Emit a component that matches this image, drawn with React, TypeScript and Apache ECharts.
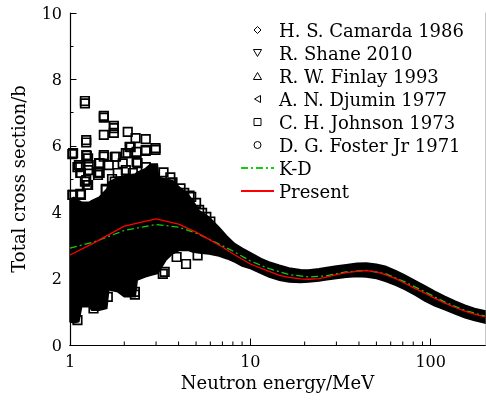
import React, { useEffect, useRef } from "react";
import * as echarts from "echarts";

// ---- data ----
const bandEnergy = [1.0, 1.05, 1.12, 1.16, 1.28, 1.32, 1.45, 1.6, 1.64, 1.84, 2.0, 2.3, 2.36, 2.6, 2.8, 3.05, 3.1, 3.4, 3.7, 4.05, 4.5, 4.8, 5.2, 5.9, 6.7, 7.4, 8.2, 9, 10, 11.5, 12.7, 14.5, 16.4, 19, 21, 24, 26, 30, 34, 39, 44, 50, 56, 64, 72, 82, 93, 105, 120, 137, 155, 175, 200];
const bandLow = [0.7, 0.66, 0.7, 1.15, 1.15, 1.05, 1.05, 1.1, 1.66, 1.6, 1.45, 1.45, 1.96, 2.05, 2.1, 2.15, 2.2, 2.55, 2.75, 2.85, 2.85, 2.8, 2.77, 2.74, 2.68, 2.6, 2.5, 2.38, 2.3, 2.15, 2.05, 1.95, 1.9, 1.88, 1.9, 1.93, 1.96, 2.0, 2.04, 2.06, 2.05, 2.0, 1.92, 1.8, 1.67, 1.5, 1.32, 1.18, 1.06, 0.93, 0.82, 0.74, 0.66];
const bandHigh = [4.4, 4.45, 4.35, 4.3, 4.3, 4.35, 4.45, 4.7, 4.9, 5.05, 5.1, 5.15, 5.2, 5.3, 5.45, 5.45, 5.05, 5.0, 4.95, 4.75, 4.55, 4.35, 4.05, 3.85, 3.55, 3.28, 3.05, 2.92, 2.78, 2.6, 2.5, 2.4, 2.32, 2.27, 2.26, 2.3, 2.33, 2.38, 2.42, 2.46, 2.47, 2.43, 2.37, 2.24, 2.1, 1.94, 1.78, 1.62, 1.46, 1.32, 1.2, 1.1, 1.03];

const presentE = [1, 1.35, 2, 3, 4, 5, 6, 7, 8, 10, 12.7, 14.5, 16.4, 19, 21, 24, 26, 30, 34, 39, 44, 50, 56, 64, 72, 82, 93, 105, 120, 137, 155, 175, 200];
const presentXS = [2.71, 3.07, 3.58, 3.8, 3.64, 3.4, 3.16, 2.95, 2.75, 2.44, 2.22, 2.1, 2.04, 1.99, 1.98, 2.0, 2.04, 2.12, 2.18, 2.22, 2.24, 2.2, 2.12, 2.0, 1.86, 1.7, 1.56, 1.41, 1.26, 1.13, 1.02, 0.93, 0.85];

const kdE = [1, 1.35, 2, 3, 4, 5, 6, 7, 8, 10, 12.7, 16.4, 21, 26, 34, 44, 56, 72, 93, 120, 155, 200];
const kdXS = [2.92, 3.1, 3.45, 3.63, 3.55, 3.37, 3.17, 2.99, 2.83, 2.53, 2.3, 2.12, 2.05, 2.08, 2.2, 2.25, 2.15, 1.9, 1.6, 1.29, 1.04, 0.87];

const johnsonE = [1.21, 1.21, 1.54, 1.54, 1.75, 1.75, 1.75, 1.54, 2.09, 2.31, 2.63, 1.23, 1.23, 2.98, 2.98, 2.63, 2.34, 2.14, 1.03, 1.24, 1.26, 1.54, 1.77, 1.46, 1.14, 1.14, 1.26, 1.46, 2.09, 2.34, 1.96, 1.21, 1.24, 1.03, 1.14, 1.58, 1.77, 1.71, 1.84, 3.7, 4.3, 3.66, 5.2, 5.7, 5.0, 4.7, 3.9, 4.4, 3.35, 3.27, 5.1, 2.29, 2.29, 1.62, 1.1, 1.35, 1.1, 1.43, 1.43,
  2.17, 2.63, 1.04, 1.23, 1.54, 1.8, 2.04, 1.12, 1.27, 1.45, 1.64, 1.15, 1.45, 1.23, 1.26, 1.04, 1.15, 1.58, 1.86, 2.23, 2.04, 2.37, 2.63, 3.3, 3.6, 4.1, 4.6, 5.4, 6.0];
const johnsonXS = [7.35, 7.28, 6.9, 6.85, 6.6, 6.53, 6.39, 6.33, 6.42, 6.23, 6.2, 6.17, 6.1, 5.93, 5.88, 5.85, 5.82, 5.97, 5.75, 5.7, 5.62, 5.67, 5.67, 5.47, 5.37, 5.18, 5.27, 5.18, 5.78, 5.51, 5.47, 4.92, 4.82, 4.52, 4.55, 4.7, 4.92, 5.0, 5.18, 4.9, 4.58, 4.88, 4.07, 3.86, 4.28, 4.46, 2.65, 2.44, 2.2, 2.14, 2.7, 1.6, 1.52, 1.45, 0.75, 1.1, 5.36, 5.2, 5.12,
  5.96, 5.87, 5.78, 5.72, 5.72, 5.67, 5.78, 5.42, 5.42, 5.48, 5.42, 5.18, 5.18, 4.97, 4.82, 4.52, 4.52, 4.67, 4.76, 5.18, 5.27, 5.48, 5.36, 5.2, 5.05, 4.72, 4.5, 3.98, 3.72];

const camardaE = [20, 30, 40, 50, 60, 80, 100, 130, 160, 190];
const camardaXS = [2.05, 2.2, 2.25, 2.2, 2.1, 1.75, 1.5, 1.2, 0.98, 0.88];
const shaneE = [6, 8, 11, 15, 25, 35, 55, 75, 110, 150];
const shaneXS = [3.1, 2.75, 2.35, 2.1, 2.12, 2.22, 2.15, 1.85, 1.35, 1.05];
const finlayE = [5.5, 7, 9, 12, 18, 28, 45, 65, 90, 140, 180];
const finlayXS = [3.3, 2.95, 2.65, 2.3, 2.03, 2.15, 2.25, 2.0, 1.62, 1.12, 0.92];
const djuminE = [1.5, 2, 3, 4, 5];
const djuminXS = [3.2, 3.5, 3.7, 3.6, 3.4];
const fosterE = [2.5, 3.5, 4.5, 6.5, 8.5, 10.5, 13];
const fosterXS = [3.6, 3.7, 3.5, 3.05, 2.75, 2.45, 2.25];

const xMinorTickValues = [2, 3, 4, 5, 6, 7, 8, 9, 20, 30, 40, 50, 60, 70, 80, 90];

const FONT = "DejaVu Serif";
const pairs = (xs: number[], ys: number[]) => xs.map((x, i) => [x, ys[i]]);
const hollow = { color: "rgba(0,0,0,0)", borderColor: "#000", borderWidth: 1.3, opacity: 1 };

const icons = {
  diamond: "path://M3.5,0L7,3.5L3.5,7L0,3.5Z",
  down: "path://M0,0.6L7,0.6L3.5,6.6Z",
  up: "path://M3.5,0.4L7,6.4L0,6.4Z",
  left: "path://M0.4,3.5L6.4,0L6.4,7Z",
  square: "path://M0.5,0.5L6.5,0.5L6.5,6.5L0.5,6.5Z",
  circle: "path://M0.5,3.5A3,3 0 1 1 6.5,3.5A3,3 0 1 1 0.5,3.5Z",
};
const noSymbol = { color: "rgba(0,0,0,0)", borderWidth: 0, opacity: 0 };

export default function App() {
  const ref = useRef<HTMLDivElement>(null);
  useEffect(() => {
    if (!ref.current) return;
    const chart = echarts.init(ref.current, undefined, { renderer: "svg" });
    const scatter = (name: string, xs: number[], ys: number[], symbol: string, rot = 0, size = 7, bw = 1.3) => ({
      name,
      type: "scatter",
      data: pairs(xs, ys),
      symbol,
      symbolRotate: rot,
      symbolSize: size,
      itemStyle: { ...hollow, borderWidth: bw },
      z: 3,
      silent: true,
    });
    chart.setOption({
      animation: false,
      textStyle: { fontFamily: FONT, color: "#000" },
      grid: { left: 70, right: 1, top: 13, bottom: 58 },
      legend: {
        left: 240,
        top: 21,
        padding: 0,
        orient: "vertical",
        itemWidth: 33,
        itemHeight: 7,
        itemGap: 5,
        selectedMode: false,
        textStyle: { fontFamily: FONT, fontSize: 18, color: "#000", lineHeight: 18 },
        itemStyle: { borderWidth: 1 },
        data: [
          { name: "H. S. Camarda 1986", icon: icons.diamond },
          { name: "R. Shane 2010", icon: icons.down },
          { name: "R. W. Finlay 1993", icon: icons.up },
          { name: "A. N. Djumin 1977", icon: icons.left },
          { name: "C. H. Johnson 1973", icon: icons.square },
          { name: "D. G. Foster Jr 1971", icon: icons.circle },
          { name: "K-D", itemStyle: noSymbol },
          { name: "Present", itemStyle: noSymbol },
        ],
      },
      xAxis: [
        {
          type: "log",
          logBase: 10,
          min: 1,
          max: 200,
          position: "bottom",
          axisLine: { lineStyle: { color: "#000", width: 1.2 } },
          axisTick: { inside: true, length: 6.5, lineStyle: { color: "#000" } },
          axisLabel: { fontFamily: FONT, fontSize: 16, color: "#000", margin: 8, showMaxLabel: false },
          splitLine: { show: false },
          name: "Neutron energy/MeV",
          nameLocation: "middle",
          nameGap: 24,
          nameTextStyle: { fontFamily: FONT, fontSize: 18, color: "#000" },
        },
        {
          type: "log",
          logBase: 10,
          min: 1,
          max: 200,
          position: "top",
          axisLine: { lineStyle: { color: "#000", width: 1.2 } },
          axisTick: { show: false },
          axisLabel: { show: false },
          splitLine: { show: false },
        },
      ],
      yAxis: [
        {
          type: "value",
          min: 0,
          max: 10,
          interval: 2,
          position: "left",
          axisLine: { show: true, lineStyle: { color: "#000", width: 1.2 } },
          axisTick: { show: true, inside: true, length: 6.5, lineStyle: { color: "#000" } },
          minorTick: { show: true, splitNumber: 2, length: 3.5, lineStyle: { color: "#000" } },
          axisLabel: { fontFamily: FONT, fontSize: 16, color: "#000", margin: 8 },
          splitLine: { show: false },
          name: "Total cross section/b",
          nameLocation: "middle",
          nameGap: 43,
          nameTextStyle: { fontFamily: FONT, fontSize: 18, color: "#000" },
        },
        {
          type: "value",
          min: 0,
          max: 10,
          position: "right",
          axisLine: { show: true, lineStyle: { color: "#c8c8c8", width: 1 } },
          axisTick: { show: false },
          axisLabel: { show: false },
          splitLine: { show: false },
        },
      ],
      series: [
        {
          name: "dataBand",
          type: "custom",
          data: bandEnergy.map((e, i) => [e, bandLow[i], bandHigh[i]]),
          encode: { x: 0, y: [1, 2] },
          silent: true,
          z: 1,
          renderItem: (params: any, api: any) => {
            if (params.dataIndex !== 0) return null;
            const upper = bandEnergy.map((e, i) => api.coord([e, bandHigh[i]]));
            const lower = bandEnergy.map((e, i) => api.coord([e, bandLow[i]])).reverse();
            return {
              type: "polygon",
              shape: { points: upper.concat(lower) },
              style: { fill: "#000", stroke: "#000", lineWidth: 1.5 },
            };
          },
        },
        scatter("H. S. Camarda 1986", camardaE, camardaXS, "diamond"),
        scatter("R. Shane 2010", shaneE, shaneXS, "triangle", 180),
        scatter("R. W. Finlay 1993", finlayE, finlayXS, "triangle"),
        scatter("A. N. Djumin 1977", djuminE, djuminXS, "triangle", 90),
        scatter("C. H. Johnson 1973", johnsonE, johnsonXS, "rect", 0, 8.5, 1.7),
        scatter("D. G. Foster Jr 1971", fosterE, fosterXS, "circle"),
        {
          name: "K-D",
          type: "line",
          data: pairs(kdE, kdXS),
          symbol: "none",
          lineStyle: { color: "#11cc11", width: 1.3, type: [7, 3, 2, 3] },
          itemStyle: noSymbol,
          z: 4,
          silent: true,
        },
        {
          name: "Present",
          type: "line",
          data: pairs(presentE, presentXS),
          symbol: "none",
          lineStyle: { color: "#ff0000", width: 1.3 },
          itemStyle: noSymbol,
          z: 5,
          silent: true,
        },
        {
          name: "xMinorTicks",
          type: "custom",
          data: xMinorTickValues.map((v) => [v, 0]),
          clip: false,
          silent: true,
          z: 6,
          renderItem: (params: any, api: any) => {
            const p = api.coord([api.value(0), 0]);
            return {
              type: "line",
              shape: { x1: p[0], y1: p[1], x2: p[0], y2: p[1] - 3.5 },
              style: { stroke: "#000", lineWidth: 1 },
            };
          },
        },
      ],
    });
    return () => chart.dispose();
  }, []);
  return <div ref={ref} style={{ position: "fixed", left: 0, top: 0, width: 486, height: 403 }} />;
}
